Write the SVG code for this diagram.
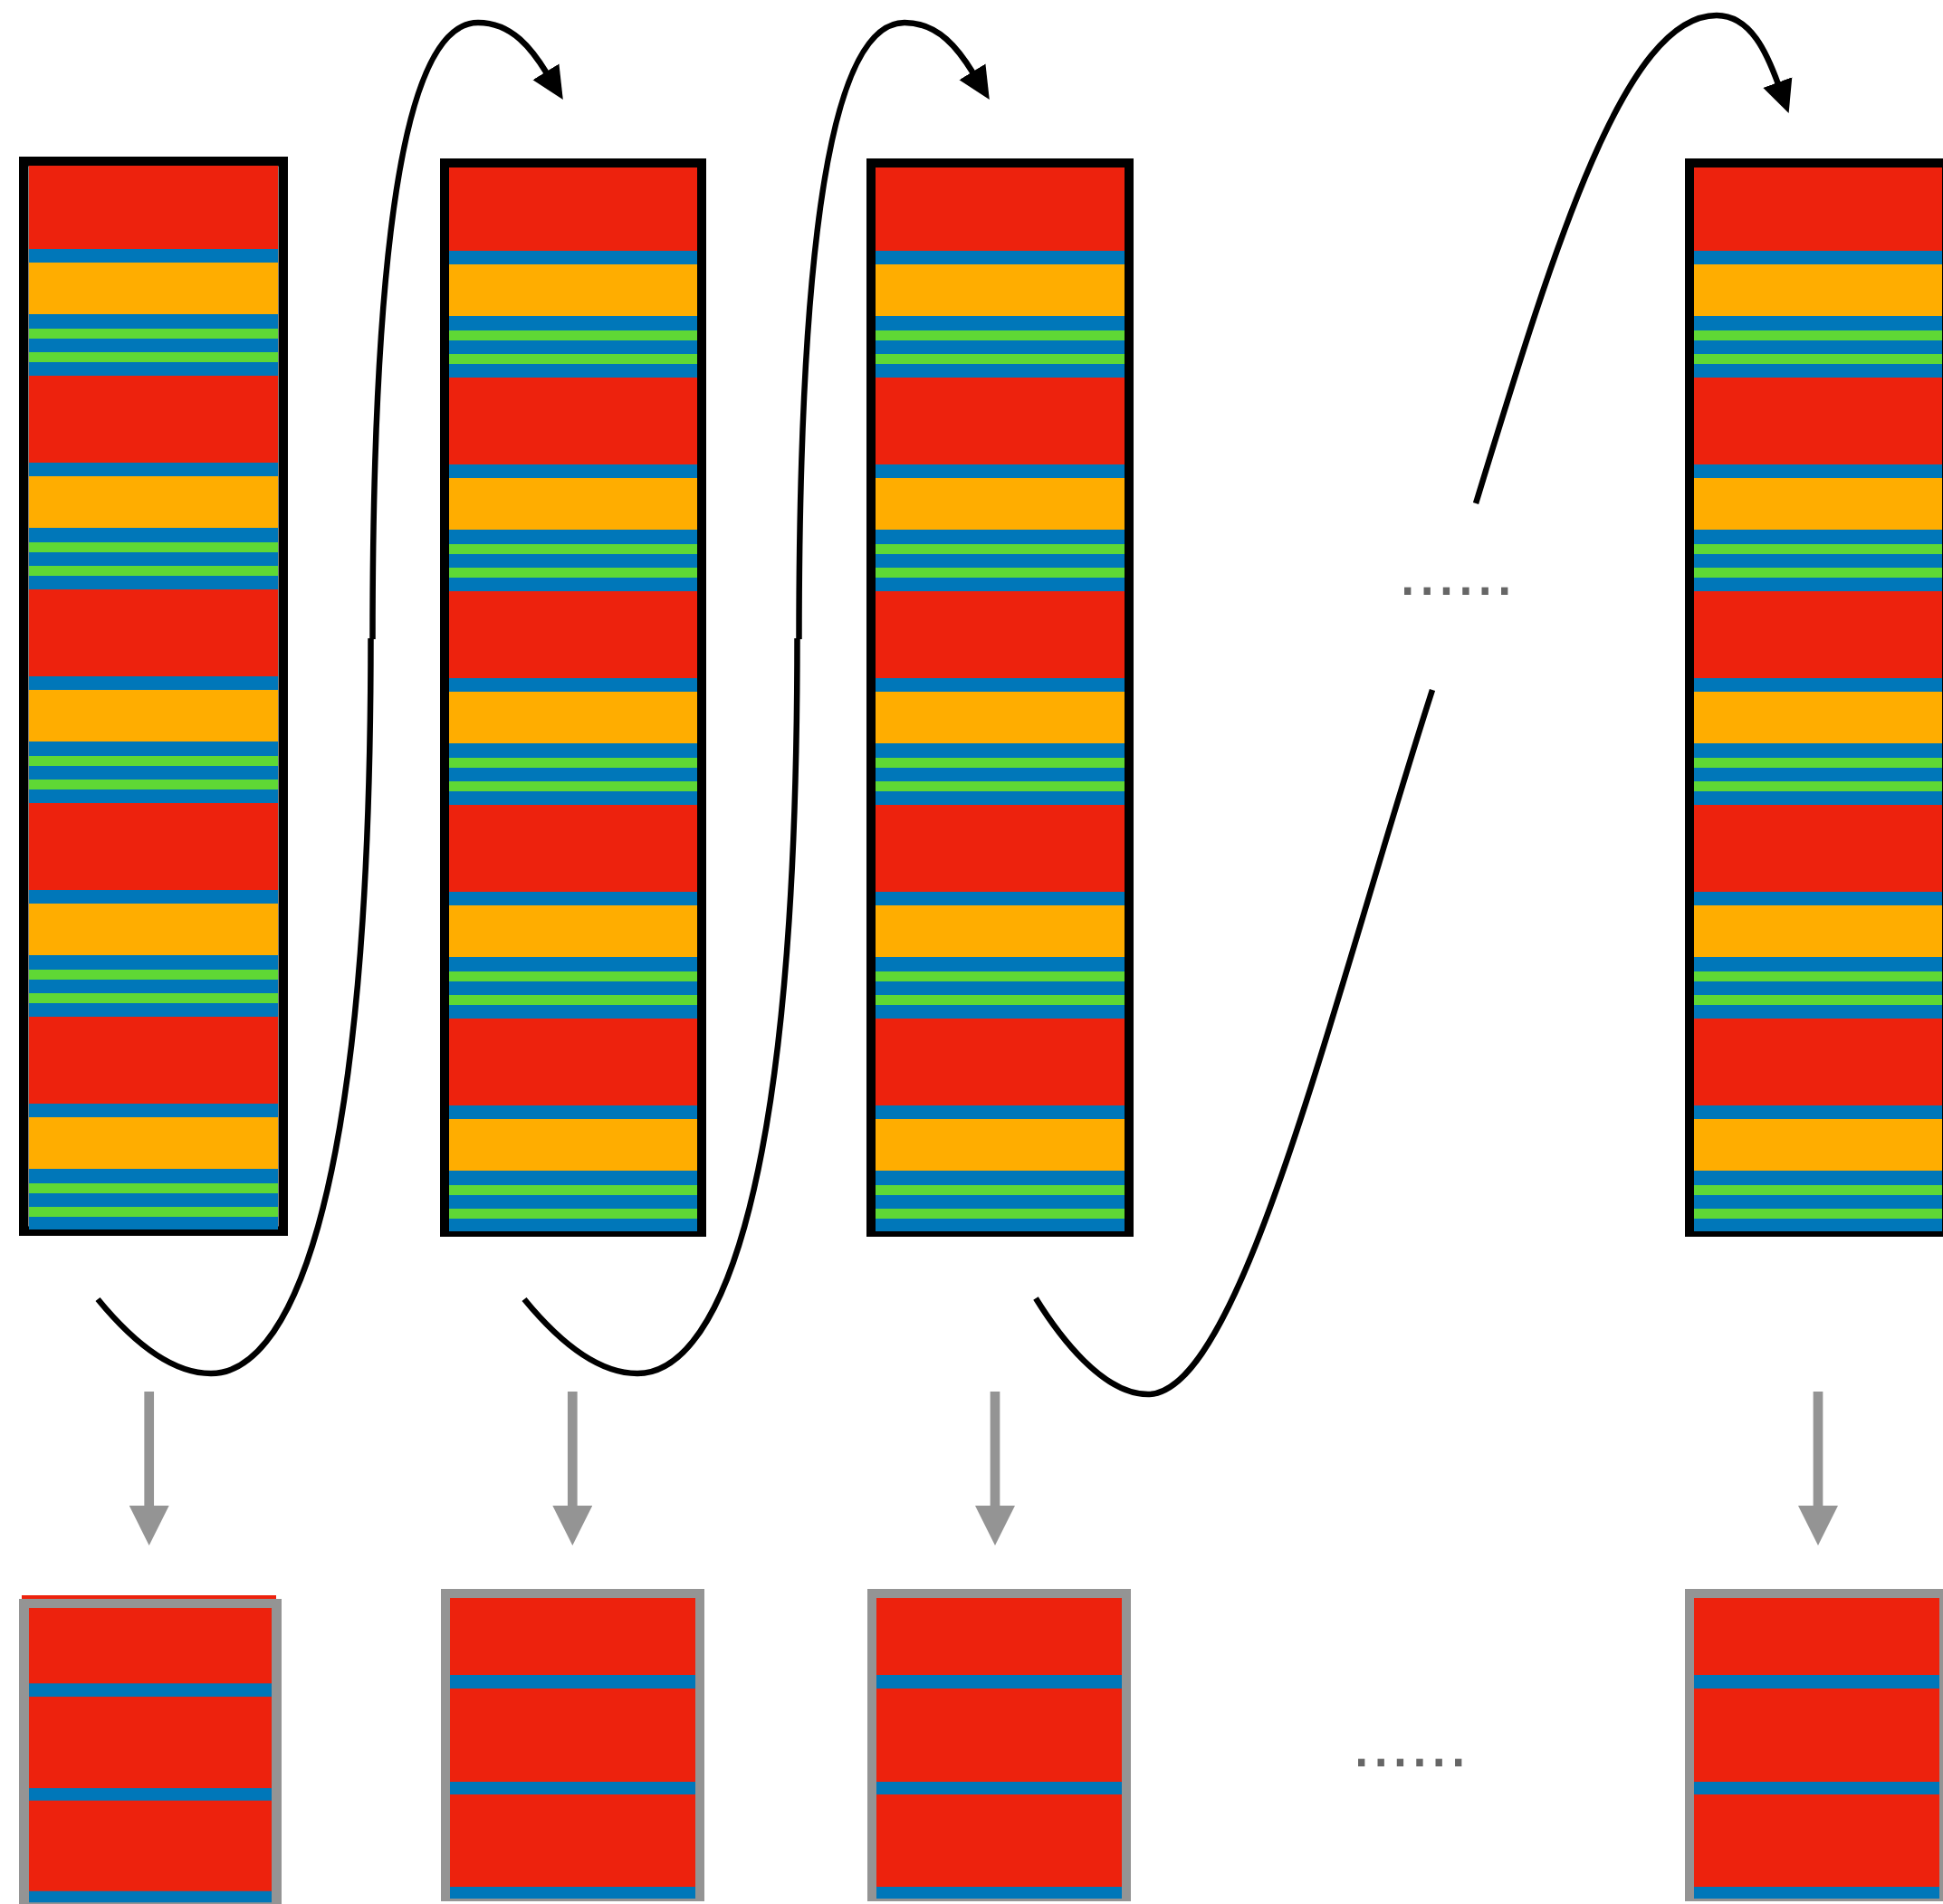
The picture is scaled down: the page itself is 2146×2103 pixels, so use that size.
<svg xmlns="http://www.w3.org/2000/svg" xmlns:xlink="http://www.w3.org/1999/xlink" width="2146" height="2103" viewBox="0 0 2146 2103">
  <style>
    .frame { fill: none; stroke: #000000; stroke-width: 10; }
    .frame-gray { fill: none; stroke: #949494; stroke-width: 10; }
    .red { fill: #ED220D; }
    .blue { fill: #0077B9; }
    .orange { fill: #FFAD00; }
    .green { fill: #5FD835; }
    .curve { fill: none; stroke: #000000; stroke-width: 6.5; }
    .down { fill: none; stroke: #949494; stroke-width: 10.7; marker-end: url(#head-gray); }
    .dots { font-family: "Liberation Sans", Arial, sans-serif; font-size: 77px; fill: #666666; }
  </style>
  <defs>
    <!-- black arrowhead of the curved connectors -->
    <marker id="head-black" markerUnits="userSpaceOnUse" viewBox="0 0 36 36" markerWidth="36" markerHeight="36" refX="2" refY="18" orient="auto">
      <path d="M0,1 L36,18 L0,35 Z" fill="#000000"/>
    </marker>
    <!-- gray arrowhead of the vertical connectors -->
    <marker id="head-gray" markerUnits="userSpaceOnUse" viewBox="0 0 44 44" markerWidth="44" markerHeight="44" refX="0" refY="22" orient="auto">
      <path d="M0,0 L44,22 L0,44 Z" fill="#949494"/>
    </marker>
    <!-- tall striped stack: five repeating layers -->
    <symbol id="tall" viewBox="0 0 274 1175" preserveAspectRatio="none">
      <rect class="blue" x="0" y="0" width="274" height="1175"/>
      <rect class="red" x="0" y="0" width="274" height="92"/>
      <rect class="red" x="0" y="232" width="274" height="96"/>
      <rect class="red" x="0" y="468" width="274" height="96"/>
      <rect class="red" x="0" y="704" width="274" height="96"/>
      <rect class="red" x="0" y="940" width="274" height="96"/>
      <rect class="orange" x="0" y="107" width="274" height="57"/>
      <rect class="orange" x="0" y="343" width="274" height="57"/>
      <rect class="orange" x="0" y="579" width="274" height="57"/>
      <rect class="orange" x="0" y="815" width="274" height="57"/>
      <rect class="orange" x="0" y="1051" width="274" height="57"/>
      <rect class="green" x="0" y="180" width="274" height="11"/>
      <rect class="green" x="0" y="206" width="274" height="11"/>
      <rect class="green" x="0" y="416" width="274" height="11"/>
      <rect class="green" x="0" y="442" width="274" height="11"/>
      <rect class="green" x="0" y="652" width="274" height="11"/>
      <rect class="green" x="0" y="678" width="274" height="11"/>
      <rect class="green" x="0" y="888" width="274" height="11"/>
      <rect class="green" x="0" y="914" width="274" height="11"/>
      <rect class="green" x="0" y="1124" width="274" height="11"/>
      <rect class="green" x="0" y="1150" width="274" height="11"/>
    </symbol>
    <!-- short block: red layers only -->
    <symbol id="short" viewBox="0 0 271 332" preserveAspectRatio="none">
      <rect class="blue" x="0" y="0" width="271" height="332"/>
      <rect class="red" x="0" y="0" width="271" height="85"/>
      <rect class="red" x="0" y="100" width="271" height="103"/>
      <rect class="red" x="0" y="217" width="271" height="102"/>
    </symbol>
  </defs>

  <rect x="0" y="0" width="2146" height="2103" fill="#ffffff"/>

  <!-- upper stacks -->
  <g id="stack-1">
    <rect class="frame" x="26.25" y="178.25" width="286.5" height="1181.5" style="stroke-width:10.5"/>
    <use xlink:href="#tall" href="#tall" x="32" y="183" width="275" height="1175"/>
  </g>
  <g id="stack-2">
    <rect class="frame" x="491" y="180" width="284" height="1181"/>
    <use xlink:href="#tall" href="#tall" x="496" y="185" width="274" height="1175"/>
  </g>
  <g id="stack-3">
    <rect class="frame" x="962" y="180" width="285" height="1181"/>
    <use xlink:href="#tall" href="#tall" x="967" y="185" width="275" height="1175"/>
  </g>
  <g id="stack-4">
    <rect class="frame" x="1866" y="180" width="284" height="1181"/>
    <use xlink:href="#tall" href="#tall" x="1871" y="185" width="274" height="1175"/>
  </g>

  <!-- lower blocks -->
  <g id="block-1">
    <rect class="red" x="24" y="1762" width="281" height="5"/>
    <rect class="frame-gray" x="26.5" y="1771.5" width="279" height="335" style="stroke-width:11"/>
    <use xlink:href="#short" href="#short" x="32" y="1776" width="268" height="325.5"/>
  </g>
  <g id="block-2">
    <rect class="frame-gray" x="492" y="1760" width="281" height="335"/>
    <use xlink:href="#short" href="#short" x="497" y="1765" width="271" height="332"/>
  </g>
  <g id="block-3">
    <rect class="frame-gray" x="963" y="1760" width="281" height="335"/>
    <use xlink:href="#short" href="#short" x="968" y="1765" width="271" height="332"/>
  </g>
  <g id="block-4">
    <rect class="frame-gray" x="1866" y="1760" width="281" height="335"/>
    <use xlink:href="#short" href="#short" x="1871" y="1765" width="271" height="332"/>
  </g>

  <!-- ellipses standing for the omitted columns -->
  <g id="ellipsis-top">
    <text class="dots" x="1544" y="657">......</text>
  </g>
  <g id="ellipsis-bottom">
    <text class="dots" x="1493" y="1951">......</text>
  </g>

  <!-- connectors -->
  <g id="connectors">
    <path class="curve" d="M108,1435 C140,1474 185,1517 233,1517 C313,1517 409.5,1355 409.5,705"/>
    <path class="curve" d="M411.5,706 C411.5,255 449,25 528,25 C566,25 588,55 604,81" marker-end="url(#head-black)"/>

    <path class="curve" d="M579,1435 C611,1474 656,1517 704,1517 C784,1517 880.5,1355 880.5,705"/>
    <path class="curve" d="M882.5,706 C882.5,255 920,25 999,25 C1037,25 1059,55 1075,81" marker-end="url(#head-black)"/>

    <path class="curve" d="M1144,1434 C1170,1476 1218,1540 1268,1540 C1370,1540 1470,1110 1582,762"/>
    <path class="curve" d="M1630,556 C1716,275 1794,17 1896,17 C1934,17 1952,60 1964,93" marker-end="url(#head-black)"/>

    <path class="down" d="M164.7,1537 V1663"/>
    <path class="down" d="M632.3,1537 V1663"/>
    <path class="down" d="M1099,1537 V1663"/>
    <path class="down" d="M2008,1537 V1663"/>
  </g>
</svg>
